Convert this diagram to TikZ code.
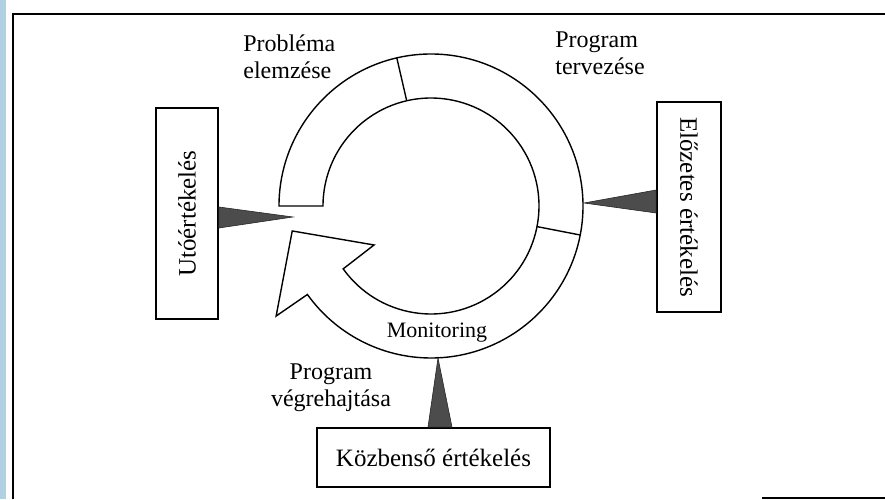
\documentclass[tikz,border=0pt]{standalone}
\usepackage{fontspec}
\setmainfont{Liberation Serif}
\usetikzlibrary{calc,positioning}
\definecolor{scanblue}{RGB}{178,208,228}
\begin{document}
\begin{tikzpicture}[x=0.5pt,y=0.5pt,
	evalbox/.style={draw,line width=0.9pt,inner sep=0pt,font=\fontsize{12.5}{14}\selectfont},
	wedge/.style={draw=black!85,fill=black!70,line width=0.3pt},
	phase/.style={inner sep=0pt,font=\fontsize{12}{13.5}\selectfont}]
		\useasboundingbox (0,0) rectangle (885,499);
		\fill[scanblue] (0,0) rectangle (6,499);
		\draw[line width=1pt] (13,0) -- (13,485) -- (885,485);
		\draw[line width=1pt] (762,1) -- (885,1);
		\coordinate (c) at (431,293);
		\draw[line width=0.7pt] ($(c)+(180:152)$) arc[start angle=180,end angle=-144.4,radius=152]
			-- ($(c)+(215.4:190)$) -- ($(c)+(190.2:141)$) -- ($(c)+(214.4:69)$)
			-- ($(c)+(215.6:108)$) arc[start angle=-144.4,end angle=180,radius=108] -- cycle;
		\draw[line width=0.7pt] ($(c)+(103:108)$) -- ($(c)+(103:152)$);
		\draw[line width=0.7pt] ($(c)+(-11:108)$) -- ($(c)+(-11:152)$);
		\node[evalbox,minimum width=31pt,minimum height=105.5pt] (uto) at (187,285.5) {\rotatebox{90}{Utóértékelés}};
		\node[evalbox,minimum width=32pt,minimum height=105pt] (elo) at (689,292) {\rotatebox{-90}{Előzetes értékelés}};
		\node[evalbox,minimum width=116.5pt,minimum height=29.5pt] (koz) at (433.5,41.5) {Közbenső értékelés};
		\coordinate (utotip) at (293,282);
		\coordinate (elotip) at (584,296);
		\coordinate (koztip) at (438,141);
		\draw[wedge] ($(uto.east)+(0,6.5)$) -- (utotip) -- ($(uto.east)+(0,-14.5)$) -- cycle;
		\draw[wedge] ($(elo.west)+(0,17)$) -- (elotip) -- ($(elo.west)+(0,-6)$) -- cycle;
		\draw[wedge] ($(koz.north)+(-5.5,0)$) -- (koztip) -- ($(koz.north)+(18.5,0)$) -- cycle;
		\node[phase,anchor=west,align=left] (elemzes) at (243,442.5) {Probléma\\elemzése};
		\node[phase,anchor=west,align=left] (tervezes) at (555,445.5) {Program\\tervezése};
		\node[phase,align=center] (vegrehajtas) at (331,111.5) {Program\\végrehajtása};
		\node[phase,font=\fontsize{11}{13}\selectfont] (monitoring) at (437,166) {Monitoring};
\end{tikzpicture}
\end{document}
